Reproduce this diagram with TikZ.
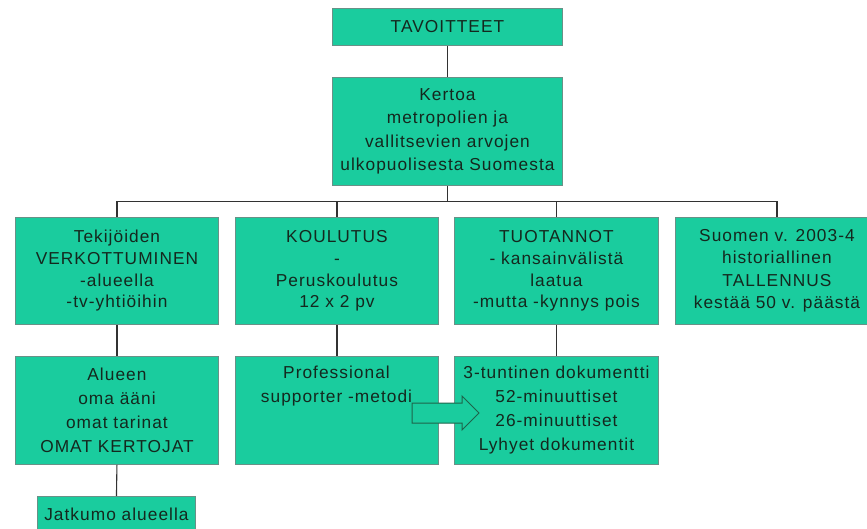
\documentclass[tikz,border=0pt]{standalone}
\usepackage{fontspec}
\setmainfont[LetterSpace=6]{Liberation Sans}
\definecolor{boxfill}{RGB}{26,204,158}
\definecolor{boxline}{RGB}{105,145,135}
\definecolor{txtc}{RGB}{20,40,30}
\definecolor{conn}{RGB}{50,50,50}
\definecolor{arrline}{RGB}{30,100,75}
\begin{document}
\begin{tikzpicture}[x=1pt,y=-1pt,
  box/.style={draw=boxline, fill=boxfill, line width=0.9pt, inner sep=0pt, anchor=north west},
  txt/.style={text=txtc, align=center, inner sep=0pt, font=\fontsize{17.3}{#1}\selectfont},
  txt/.default=23.3,
  conn/.style={draw=conn, line width=1.1pt}]
\useasboundingbox (0,0) rectangle (867,529);
\clip (0,0) rectangle (867,529);
% boxes
\node[box, minimum width=230pt, minimum height=37pt] (T) at (332,8) {};
\node[box, minimum width=230pt, minimum height=108pt] (K) at (332,77) {};
\node[box, minimum width=203pt, minimum height=107pt] (A1) at (15,217) {};
\node[box, minimum width=203pt, minimum height=107pt] (A2) at (235,217) {};
\node[box, minimum width=204pt, minimum height=107pt] (A3) at (454,217) {};
\node[box, minimum width=203pt, minimum height=107pt] (A4) at (675,217) {};
\node[box, minimum width=203pt, minimum height=108pt] (B1) at (15,356) {};
\node[box, minimum width=203pt, minimum height=108pt] (B2) at (235,356) {};
\node[box, minimum width=204pt, minimum height=108pt] (B3) at (454,356) {};
\node[box, minimum width=158pt, minimum height=36pt] (J) at (37,496) {};
% texts
\node[txt] (Tt) at (T.center) {TAVOITTEET};
\node[txt] (Kt) at (K.center) {Kertoa\\metropolien ja\\vallitsevien arvojen\\ulkopuolisesta Suomesta};
\node[txt=21.7] (A1t) at (A1.center) {Tekijöiden\\VERKOTTUMINEN\\-alueella\\-tv-yhtiöihin};
\node[txt=21.7] (A2t) at (A2.center) {KOULUTUS\\-\\Peruskoulutus\\12 x 2 pv};
\node[txt=21.7] (A3t) at (A3.center) {TUOTANNOT\\- kansainvälistä\\laatua\\-mutta -kynnys pois};
\node[txt=22.5] (A4t) at (A4.center) {Suomen v. 2003-4\\historiallinen\\TALLENNUS\\kestää 50 v. päästä};
\node[txt=24] (B1t) at (B1.center) {Alueen\\oma ääni\\omat tarinat\\OMAT KERTOJAT};
\node[txt=24] (B2t) at (336.5,386) {Professional\\supporter -metodi};
\node[txt=24] (B3t) at (B3.center) {3-tuntinen dokumentti\\52-minuuttiset\\26-minuuttiset\\Lyhyet dokumentit};
\node[txt] (Jt) at (J.center) {Jatkumo alueella};
% connectors
\draw[conn] (T.south) -- (K.north);
\draw[conn] (K.south) -- ++(0,16) coordinate (hub);
\draw[conn] (hub) -| (A1.north);
\draw[conn] (hub) -| (A2.north);
\draw[conn] (hub) -| (A3.north);
\draw[conn] (hub) -| (A4.north);
\draw[conn] (A1.south) -- (B1.north);
\draw[conn] (A2.south) -- (B2.north);
\draw[conn] (A3.south) -- (B3.north);
\draw[conn] (B1.south) -- (J.north);
% block arrow
\draw[fill=boxfill, draw=arrline, line width=1pt, line join=miter]
  (412,403) -- (462,403) -- (462,396) -- (479,413) -- (462,430) -- (462,423) -- (412,423) -- cycle;
\end{tikzpicture}
\end{document}
